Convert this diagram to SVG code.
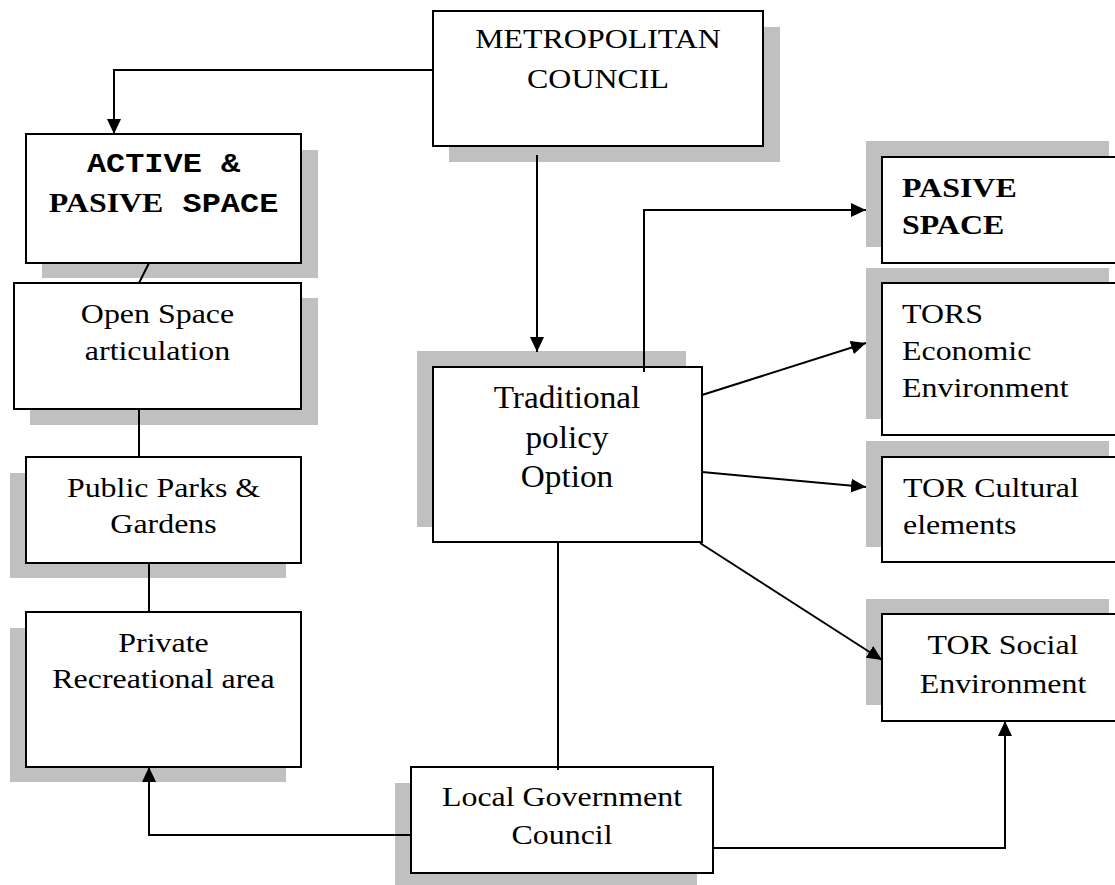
<svg xmlns="http://www.w3.org/2000/svg" width="1115" height="885" viewBox="0 0 1115 885">
<defs>
<marker id="arr" markerUnits="userSpaceOnUse" markerWidth="15" markerHeight="14" refX="15" refY="7" orient="auto">
<path d="M0,0 L15,7 L0,14 z" fill="#000"/>
</marker>
<style>
.sh{fill:#c0c0c0}
.bx{fill:#fff;stroke:#000;stroke-width:2}
.t{font-family:"Liberation Serif","Times New Roman",serif;font-size:28px;fill:#000}
.c{text-anchor:middle}
.b{font-weight:bold}
.m{font-family:"Liberation Mono","Courier New",monospace;font-weight:bold}
.ln{fill:none;stroke:#000;stroke-width:2}
.ar{fill:none;stroke:#000;stroke-width:2;marker-end:url(#arr)}
</style>
</defs>
<rect width="1115" height="885" fill="#fff"/>
<g id="metro">
<rect class="sh" x="449" y="27" width="331" height="135"/>
<rect class="bx" x="433" y="11" width="330" height="135"/>
<g transform="translate(598,0) scale(1.14,1)"><text class="t c" x="0" y="48">METROPOLITAN</text><text class="t c" x="0" y="88">COUNCIL</text></g>
</g>
<g id="active">
<rect class="sh" x="42" y="150" width="276" height="128"/>
<rect class="bx" x="26" y="134" width="275" height="129"/>
<g transform="translate(163.5,0) scale(1.14,1)"><text class="t c m" x="0" y="172">ACTIVE &amp;</text><text class="t c b" x="0" y="212"><tspan>PASIVE</tspan><tspan class="m"> SPACE</tspan></text></g>
</g>
<g id="open">
<rect class="sh" x="30" y="298" width="288" height="127"/>
<rect class="bx" x="14" y="283" width="287" height="126"/>
<g transform="translate(157.5,0) scale(1.14,1)"><text class="t c" x="0" y="323">Open Space</text><text class="t c" x="0" y="360">articulation</text></g>
</g>
<g id="public">
<rect class="sh" x="10" y="473" width="276" height="105"/>
<rect class="bx" x="26" y="457" width="275" height="106"/>
<g transform="translate(163.5,0) scale(1.14,1)"><text class="t c" x="0" y="497">Public Parks &amp;</text><text class="t c" x="0" y="533">Gardens</text></g>
</g>
<g id="private">
<rect class="sh" x="10" y="628" width="276" height="154"/>
<rect class="bx" x="26" y="612" width="275" height="155"/>
<g transform="translate(163.5,0) scale(1.14,1)"><text class="t c" x="0" y="652">Private</text><text class="t c" x="0" y="688">Recreational area</text></g>
</g>
<g id="trad">
<rect class="sh" x="417" y="351" width="269" height="176"/>
<rect class="bx" x="433" y="367" width="269" height="175"/>
<g transform="translate(567,0) scale(1.04,1)"><text class="t c" style="font-size:32px" x="0" y="408">Traditional</text><text class="t c" style="font-size:32px" x="0" y="448">policy</text><text class="t c" style="font-size:32px" x="0" y="487">Option</text></g>
</g>
<g id="lgc">
<rect class="sh" x="395" y="783" width="302" height="102"/>
<rect class="bx" x="411" y="767" width="302" height="106"/>
<g transform="translate(562,0) scale(1.14,1)"><text class="t c" x="0" y="806">Local Government</text><text class="t c" x="0" y="844">Council</text></g>
</g>
<g id="pasive">
<rect class="sh" x="866" y="141" width="243" height="106"/>
<rect class="bx" x="882" y="157" width="242" height="106"/>
<g transform="translate(902,0) scale(1.14,1)"><text class="t b" x="0" y="197">PASIVE</text><text class="t b" x="0" y="234">SPACE</text></g>
</g>
<g id="tors">
<rect class="sh" x="866" y="268" width="243" height="151"/>
<rect class="bx" x="882" y="283" width="242" height="152"/>
<g transform="translate(902,0) scale(1.14,1)"><text class="t" x="0" y="323">TORS</text><text class="t" x="0" y="360">Economic</text><text class="t" x="0" y="397">Environment</text></g>
</g>
<g id="cultural">
<rect class="sh" x="866" y="441" width="243" height="106"/>
<rect class="bx" x="882" y="457" width="242" height="105"/>
<g transform="translate(903,0) scale(1.14,1)"><text class="t" x="0" y="497">TOR Cultural</text><text class="t" x="0" y="534">elements</text></g>
</g>
<g id="social">
<rect class="sh" x="866" y="599" width="243" height="106"/>
<rect class="bx" x="882" y="614" width="242" height="107"/>
<g transform="translate(1003,0) scale(1.14,1)"><text class="t c" x="0" y="654">TOR Social</text><text class="t c" x="0" y="693">Environment</text></g>
</g>
<g id="connectors">
<path class="ar" d="M433,70 H114 V134"/>
<path class="ar" d="M537,155 V352"/>
<path class="ar" d="M644,372 V210 H866"/>
<path class="ar" d="M702,395 L866,343"/>
<path class="ar" d="M702,472 L866,487"/>
<path class="ar" d="M700,543 L882,660"/>
<path class="ln" d="M558,542 V770"/>
<path class="ar" d="M411,835 H149 V767"/>
<path class="ar" d="M713,848 H1005 V721"/>
<path class="ln" d="M149,263 L139,283"/>
<path class="ln" d="M139,409 V457"/>
<path class="ln" d="M149,563 V612"/>
</g>
</svg>
